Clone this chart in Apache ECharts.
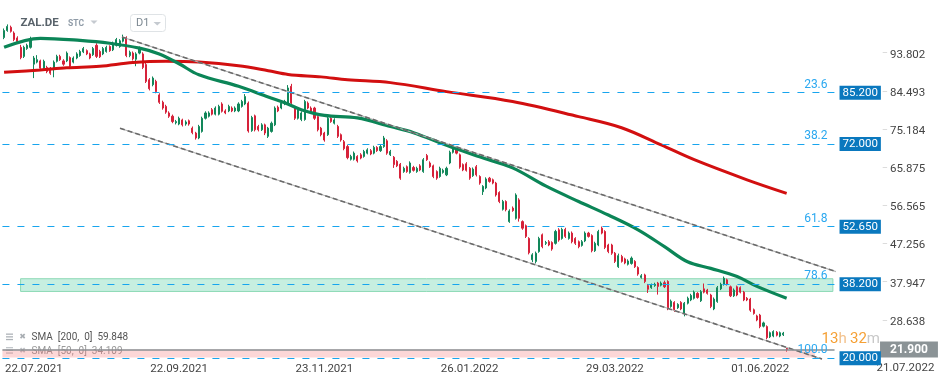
<!DOCTYPE html>
<html><head><meta charset="utf-8">
<script src="https://cdn.jsdelivr.net/npm/echarts@6/dist/echarts.min.js"></script>
<style>html,body{margin:0;padding:0;background:#fff}#c{width:949px;height:385px}</style>
</head><body><div id="c"></div>
<script>
// ---- data ----
const startDate = '2021-07-09';
const holidays = ['2021-12-24','2021-12-31','2022-04-15','2022-04-18'];
const totalSlots = 252;
const labelIdx = [9, 53, 97, 141, 185, 229];
const rightDateLabel = '21.07.2022';

const opens = [
98.0,99.7,100.5,99.1,97.9,95.6,93.4,95.3,95.6,91.5,
92.0,92.3,90.5,90.7,90.5,90.5,92.2,93.4,92.3,92.3,
93.1,92.0,93.0,93.6,94.5,94.8,94.0,93.8,96.1,94.6,
94.0,94.6,95.8,95.0,96.1,95.8,97.1,97.9,93.6,94.2,
92.7,94.2,94.0,91.4,87.7,86.5,87.3,84.0,82.2,81.2,
79.6,78.8,77.2,76.9,77.9,76.9,77.7,75.9,74.7,73.5,
75.1,78.3,78.8,80.4,79.3,79.3,81.8,80.1,80.1,80.8,
80.1,80.1,81.2,81.8,82.0,75.3,78.9,76.3,75.5,76.7,
73.9,75.1,76.7,81.0,80.8,81.8,82.0,86.1,80.8,78.3,
78.0,78.0,82.0,80.8,80.8,78.7,75.9,74.7,74.3,78.3,
77.1,76.3,74.3,72.6,71.4,68.3,68.3,69.0,69.4,69.0,
69.8,70.4,69.8,71.2,70.4,71.4,72.8,69.4,68.8,67.8,
67.1,65.3,66.5,65.1,66.3,65.3,66.7,65.3,69.2,67.4,
66.7,65.3,64.1,65.1,64.5,67.4,70.0,70.8,69.4,67.0,
67.2,66.1,64.3,66.5,64.1,60.4,61.3,63.7,63.3,62.5,
60.2,56.1,58.0,53.1,56.4,53.9,58.4,53.1,52.1,49.0,
43.8,43.4,45.8,49.9,47.8,48.2,48.0,47.8,51.1,49.0,
51.2,49.0,50.3,49.0,48.2,47.3,48.4,50.3,49.7,46.0,
47.4,51.5,50.7,47.4,47.4,45.4,42.1,44.6,44.0,42.7,
42.9,43.4,41.9,39.5,40.1,37.5,37.0,37.5,38.1,37.6,
38.2,38.5,32.4,33.4,32.1,33.4,30.7,33.2,34.0,34.4,
35.6,33.8,36.7,36.4,35.2,31.8,33.6,36.7,37.8,38.9,
37.2,35.0,37.2,37.0,35.9,34.4,34.2,31.6,30.1,30.3,
27.6,27.5,25.0,25.2,26.1,25.2,25.5,22.2];
const closes = [
99.7,100.7,99.5,97.5,97.0,93.1,95.6,96.1,97.5,93.0,
92.6,90.5,92.2,89.7,89.3,92.0,93.4,92.6,91.5,94.2,
91.0,93.0,94.0,94.6,95.3,94.0,93.0,95.3,93.4,93.3,
95.3,95.6,94.8,96.6,97.5,97.2,98.0,93.6,94.4,92.8,
94.0,95.4,90.7,87.3,85.5,88.1,84.8,82.2,80.8,79.8,
78.8,77.5,77.5,78.3,76.7,77.4,76.9,74.8,73.5,76.3,
78.3,79.6,79.6,79.3,80.8,81.2,80.0,79.6,81.2,80.1,
80.8,81.8,82.4,83.6,75.2,78.5,75.5,75.5,76.7,74.7,
75.9,77.1,80.8,80.1,82.0,82.4,85.7,82.0,78.3,80.4,
79.6,82.4,80.8,80.0,78.3,75.5,74.3,73.0,78.3,77.5,
77.9,73.9,73.0,70.9,68.7,69.0,69.8,67.9,68.6,70.2,
70.6,69.6,71.2,70.4,71.4,73.5,69.8,70.2,67.0,66.7,
63.7,66.1,65.3,67.4,65.6,66.1,65.7,68.2,68.2,66.5,
64.1,63.7,66.1,65.6,66.1,70.0,71.3,69.8,66.4,65.7,
65.6,63.7,65.9,64.5,62.5,61.7,63.5,62.9,62.5,59.6,
58.0,58.0,56.0,55.7,55.8,59.6,53.9,51.5,49.5,45.5,
45.0,45.4,49.0,47.0,48.0,47.4,46.4,50.7,48.6,51.2,
49.5,50.3,48.2,47.8,47.0,48.2,50.3,49.5,46.0,47.8,
50.7,50.3,46.8,45.8,45.4,43.4,44.8,43.4,43.0,43.5,
44.2,42.1,40.3,39.9,38.5,36.6,37.6,37.8,37.3,38.1,
37.2,31.9,33.7,31.5,32.9,31.8,33.2,34.4,35.1,35.9,
34.6,36.0,35.9,35.6,32.4,34.2,37.0,37.8,39.3,37.8,
35.0,36.4,35.2,35.9,34.0,34.0,31.5,30.7,29.1,27.5,
28.4,24.8,26.0,26.3,25.4,26.0,25.9,21.9];
const lows = [
97.6,99.4,99.2,97.1,96.7,92.7,93.0,95.0,95.3,88.1,
91.7,90.1,90.2,89.3,88.9,88.3,91.9,92.3,91.1,92.0,
90.6,91.7,92.7,93.3,94.2,93.7,92.7,93.5,93.0,93.0,
93.7,94.3,94.5,94.7,95.8,95.5,96.8,93.2,93.2,92.4,
91.0,93.9,90.3,86.9,85.1,86.1,84.4,81.8,80.4,79.4,
78.4,77.1,76.8,76.6,76.3,76.5,76.5,74.4,73.1,73.2,
74.8,78.0,78.5,79.0,79.0,79.0,79.7,79.3,79.8,79.8,
79.8,79.8,80.9,81.5,74.8,75.0,75.1,75.1,75.2,74.2,
73.5,74.8,76.4,79.8,80.5,81.5,81.7,81.6,77.9,78.0,
77.6,77.7,80.5,79.7,77.9,75.1,73.9,72.6,74.0,77.2,
76.8,73.5,72.6,70.5,68.3,68.0,68.0,67.5,68.3,68.7,
69.5,69.3,69.5,70.1,70.1,71.1,69.4,69.1,66.2,66.4,
63.3,65.0,65.0,64.8,65.3,65.0,65.4,65.0,67.9,66.2,
63.7,63.3,63.8,64.8,64.2,67.1,69.7,69.5,66.0,65.4,
65.3,63.3,64.0,64.1,62.1,59.6,61.0,62.6,62.2,59.2,
57.6,55.8,55.6,52.8,55.5,53.6,53.1,51.1,49.1,45.1,
43.2,42.9,45.5,46.6,47.4,47.1,46.0,47.5,48.2,48.7,
49.1,48.7,47.8,47.4,46.6,47.0,48.1,49.2,45.6,45.7,
47.1,50.0,46.4,45.4,45.0,43.0,41.8,43.1,42.7,42.4,
42.6,41.8,39.9,39.2,38.1,35.7,36.7,37.2,35.3,37.3,
36.9,31.5,32.1,31.1,31.8,31.5,30.0,32.9,33.7,34.1,
34.3,33.5,35.6,35.3,32.0,31.5,33.3,36.4,37.5,37.5,
34.7,34.7,34.9,35.6,33.7,33.7,31.1,30.4,28.8,27.1,
27.3,24.4,24.7,24.9,25.1,24.9,25.2,21.4];
const highs = [
100.2,101.2,100.9,99.5,98.3,96.2,96.0,96.5,98.2,93.5,
93.7,92.6,92.6,91.1,90.8,92.4,93.8,93.8,92.7,94.6,
93.4,93.4,94.4,95.0,95.7,95.1,94.3,95.7,96.6,95.0,
95.7,96.0,96.1,97.0,97.9,97.6,98.7,98.3,94.8,94.6,
94.4,95.8,94.4,91.8,88.1,88.5,87.7,84.4,82.6,81.6,
80.0,79.2,77.9,78.7,78.2,77.8,78.0,76.3,75.0,76.7,
78.7,80.0,80.0,80.8,81.2,81.6,82.2,80.5,81.6,81.2,
81.2,82.2,82.8,84.2,82.4,78.9,79.2,76.7,77.1,77.0,
76.2,77.5,81.2,81.4,82.4,82.8,86.4,86.7,81.2,80.8,
80.0,82.8,82.4,81.2,81.1,79.0,76.2,75.0,78.7,78.7,
78.3,76.7,74.6,73.0,71.8,69.4,70.2,69.3,69.8,70.6,
71.0,70.8,71.6,71.5,71.8,74.0,73.2,70.6,69.1,68.1,
67.4,66.5,66.8,67.8,66.7,66.5,67.1,68.6,69.6,67.8,
67.0,65.6,66.5,66.0,66.5,70.4,71.7,71.2,69.7,67.3,
67.6,66.4,66.3,66.9,64.4,62.0,63.9,64.0,63.6,62.8,
60.5,58.4,58.3,56.1,56.8,60.0,58.8,53.4,52.4,49.3,
45.4,45.8,49.4,50.2,48.4,48.6,48.3,51.1,51.5,51.6,
51.6,50.7,50.7,49.3,48.5,48.6,50.7,50.6,50.0,48.2,
51.1,51.9,51.0,47.7,47.7,45.7,45.3,45.0,44.3,43.9,
44.6,43.7,42.2,40.3,40.4,37.9,38.0,38.2,38.4,38.5,
38.7,38.8,34.1,33.7,33.2,33.7,33.5,34.8,35.5,36.3,
35.9,36.4,38.0,36.7,35.5,34.6,37.4,38.2,39.7,39.2,
37.5,36.8,37.5,37.3,36.2,34.7,34.5,31.9,30.4,30.6,
28.7,27.8,26.3,26.6,26.4,26.3,26.2,22.3];

// moving averages: [bar index, value]
const sma50 = [[0,95.6],[11,97.8],[23,97.3],[32,96.6],[41,95.4],[47,94.0],[53,91.6],[59,88.9],[71,86.1],[80,83.5],[85,82.1],[90,80.4],[97,79.0],[107,78.4],[117,76.3],[124,74.8],[134,71.7],[144,68.9],[154,66.2],[164,61.8],[174,58.0],[183,54.7],[192,51.1],[200,47.0],[207,43.3],[214,41.7],[222,39.7],[228,37.3],[237,34.4]];
const sma200 = [[0,89.5],[11,90.1],[19,90.6],[29,91.0],[39,91.9],[49,92.2],[59,92.0],[71,91.1],[80,89.9],[86,89.0],[96,88.4],[104,87.7],[117,87.0],[134,84.8],[154,82.4],[174,78.7],[187,76.0],[199,71.8],[209,68.2],[225,63.3],[237,60.0]];

// trend channel end points: [bar index, value]
const channelUpper = [[35.7, 98.13], [255.6, 39.96]];
const channelLower = [[35.1, 75.86], [247.7, 19.59]];

const yTicks = [28.638, 37.947, 47.256, 56.565, 65.875, 75.184, 84.493, 93.802];
const fibPct = ['23.6', '38.2', '61.8', '78.6', '100.0'];
const fibLevel = [84.55, 72.0, 51.85, 37.8, 19.8];
const fibPrice = ['85.200', '72.000', '52.650', '38.200', '20.000'];
const zoneGreen = [36.07, 39.17];
const zonePink = [19.95, 21.9];
const lastPrice = 21.9;
const legendLines = ['SMA  [200,  0]  59.848', 'SMA  [50,  0]  34.109'];

// ---- categories (Xetra trading days) ----
function pad(n){return n<10?'0'+n:''+n;}
const dates = [];
(function(){
  let d = new Date(startDate + 'T00:00:00Z');
  while (dates.length < totalSlots) {
    const wd = d.getUTCDay();
    const iso = d.getUTCFullYear()+'-'+pad(d.getUTCMonth()+1)+'-'+pad(d.getUTCDate());
    if (wd !== 0 && wd !== 6 && holidays.indexOf(iso) < 0) {
      dates.push(pad(d.getUTCDate())+'.'+pad(d.getUTCMonth()+1)+'.'+d.getUTCFullYear());
    }
    d = new Date(d.getTime() + 86400000);
  }
})();

const ohlc = opens.map((o,i)=>[o, closes[i], lows[i], highs[i]]);

const UP = '#12875a', DOWN = '#d6223a';
const FIB = '#18a5ee', BOX = '#0a78be';

const fibLines = fibLevel.map((v,i)=>({
  yAxis: v,
  lineStyle: {color: FIB, type: [7,8], width: 1},
  label: {show: true, position: 'insideEndTop', formatter: fibPct[i], color: '#2aa8f0', fontSize: 12, distance: [7, 2]}
}));
const fibBoxes = fibLevel.map((v,i)=>({
  yAxis: v,
  lineStyle: {color: 'rgba(0,0,0,0)', width: 0},
  label: {show: true, position: 'end', distance: 5, formatter: fibPrice[i], color: '#fff', backgroundColor: BOX,
          fontSize: 11.5, lineHeight: 14, padding: [0,3,0,3], opacity: 1}
}));

const chart = echarts.init(document.getElementById('c'), null, {renderer: 'canvas'});
chart.setOption({
  animation: false,
  backgroundColor: '#fff',
  textStyle: {fontFamily: 'Roboto'},
  grid: {left: 2.43, top: 0, width: 832.1, height: 360},
  xAxis: [
    {type: 'category', data: dates, boundaryGap: true,
     axisLine: {show: false}, axisTick: {show: false}, splitLine: {show: false},
     axisLabel: {interval: (i)=>labelIdx.indexOf(i) >= 0, color: '#444', fontSize: 11.5, margin: 3, fontFamily: 'Roboto'}},
    {type: 'value', min: -0.5, max: totalSlots - 0.5, show: false}
  ],
  yAxis: {type: 'value', position: 'right', offset: 47.5, min: 19.35, max: 107.15,
    splitLine: {show: false}, axisLine: {show: false}, axisTick: {show: false},
    axisLabel: {customValues: yTicks, margin: 0, fontFamily: 'Roboto',
      formatter: (v)=>'{t|–}{v|' + v.toFixed(3) + '}',
      rich: {t: {color: '#cfcfcf', fontSize: 9, fontFamily: 'Roboto', padding: [0,0,1,0]},
             v: {color: '#444', fontSize: 11.5, padding: [0,0,0,2], fontFamily: 'Roboto'}}}},
  series: [
    {type: 'candlestick', data: ohlc, barWidth: 1.6, z: 2,
     itemStyle: {color: UP, color0: DOWN, borderColor: UP, borderColor0: DOWN, borderWidth: 1}},
    {type: 'line', xAxisIndex: 1, data: sma200, smooth: 0.35, symbol: 'none', z: 3,
     lineStyle: {color: '#d20f10', width: 3}},
    {type: 'line', xAxisIndex: 1, data: sma50, smooth: 0.35, symbol: 'none', z: 3,
     lineStyle: {color: '#0b8557', width: 3.2}},
    {type: 'line', xAxisIndex: 1, data: channelUpper, symbol: 'none', z: 3, clip: false,
     lineStyle: {color: '#b4b4b4', width: 1.2}},
    {type: 'line', xAxisIndex: 1, data: channelUpper, symbol: 'none', z: 3, clip: false,
     lineStyle: {color: '#6a6a6a', width: 1.6, type: [5,3]}},
    {type: 'line', xAxisIndex: 1, data: channelLower, symbol: 'none', z: 3, clip: false,
     lineStyle: {color: '#b4b4b4', width: 1.2}},
    {type: 'line', xAxisIndex: 1, data: channelLower, symbol: 'none', z: 3, clip: false,
     lineStyle: {color: '#6a6a6a', width: 1.6, type: [5,3]}},
    {type: 'line', xAxisIndex: 1, data: [], z: 4, clip: false, silent: true,
     markArea: {silent: true, data: [
       [{xAxis: 5, yAxis: zoneGreen[1], itemStyle: {color: 'rgba(162,228,203,0.6)', borderColor: '#8cd9b5', borderWidth: 1}},
        {xAxis: 251, yAxis: zoneGreen[0]}],
       [{xAxis: -1.3, yAxis: zonePink[1], itemStyle: {color: 'rgba(240,80,80,0.23)'}},
        {xAxis: 245.6, yAxis: zonePink[0]}]
     ]}},
    {type: 'line', xAxisIndex: 1, data: [], z: 6, clip: false, silent: true,
     markLine: {silent: true, symbol: ['none','none'], animation: false,
       data: fibLines.concat([
         {yAxis: lastPrice, lineStyle: {color: '#8a9094', width: 1.5, type: 'solid'},
          label: {show: true, position: 'end', distance: 45.5, formatter: lastPrice.toFixed(3),
                  color: '#fff', backgroundColor: '#8b9396', fontSize: 12, fontWeight: 'bold',
                  lineHeight: 16, padding: [0,10,0,10]}}
       ])}},
    {type: 'line', xAxisIndex: 1, data: [], z: 7, clip: false, silent: true,
     markLine: {silent: true, symbol: ['none','none'], animation: false, data: fibBoxes}}
  ],
  graphic: {elements: [
    {type: 'text', x: 20.5, y: 23, style: {text: 'ZAL.DE', fill: '#59636b', font: 'bold 11.5px Roboto', verticalAlign: 'middle'}},
    {type: 'text', x: 68, y: 24, style: {text: 'STC', fill: '#8f9ba7', font: 'bold 8.5px Roboto', verticalAlign: 'middle'}},
    {type: 'polygon', shape: {points: [[90.5,20.5],[97.5,20.5],[94,24]]}, style: {fill: '#c5cad0'}},
    {type: 'rect', shape: {x: 130.5, y: 14.5, width: 35, height: 17, r: 3}, style: {fill: '#fff', stroke: '#dfe3e6', lineWidth: 1}},
    {type: 'text', x: 136, y: 23.5, style: {text: 'D1', fill: '#7c8891', font: '11px Roboto', verticalAlign: 'middle'}},
    {type: 'polygon', shape: {points: [[153.5,22],[161,22],[157.25,25.5]]}, style: {fill: '#c5cad0'}},
    // legend
    {type: 'rect', shape: {x: 6, y: 333.5, width: 7, height: 1.3}, style: {fill: '#aeb3b8'}},
    {type: 'rect', shape: {x: 6, y: 336.2, width: 7, height: 1.3}, style: {fill: '#aeb3b8'}},
    {type: 'rect', shape: {x: 6, y: 338.9, width: 7, height: 1.3}, style: {fill: '#aeb3b8'}},
    {type: 'text', x: 22.5, y: 337, style: {text: '✖', fill: '#a9aeb3', font: '8px DejaVu Sans', align: 'center', verticalAlign: 'middle'}},
    {type: 'text', x: 31.5, y: 337.5, style: {text: legendLines[0], fill: '#555', font: '10px Roboto', verticalAlign: 'middle'}},
    {type: 'rect', shape: {x: 6, y: 347, width: 7, height: 1.3}, style: {fill: '#c4c8cc'}},
    {type: 'rect', shape: {x: 6, y: 349.7, width: 7, height: 1.3}, style: {fill: '#c4c8cc'}},
    {type: 'rect', shape: {x: 6, y: 352.4, width: 7, height: 1.3}, style: {fill: '#c4c8cc'}},
    {type: 'text', x: 22.5, y: 350.5, style: {text: '✖', fill: '#c0c4c8', font: '8px DejaVu Sans', align: 'center', verticalAlign: 'middle'}},
    {type: 'text', x: 31.5, y: 351, style: {text: legendLines[1], fill: '#9a9a9a', font: '10px Roboto', verticalAlign: 'middle'}},
    // timer & right date
    {type: 'text', x: 880, y: 339, style: {text: '{a|13}{b|h} {a|32}{c|m}', align: 'right', verticalAlign: 'middle',
      rich: {a: {fill: '#f5a035', font: '15px Roboto'}, b: {fill: '#f2c08a', font: '15px Roboto'}, c: {fill: '#c8c8c8', font: '15px Roboto'}}}},
    {type: 'text', x: 905.5, y: 368.5, style: {text: rightDateLabel, fill: '#444', font: '11.5px Roboto', align: 'center', verticalAlign: 'middle'}}
  ]}
});
</script>
</body></html>
